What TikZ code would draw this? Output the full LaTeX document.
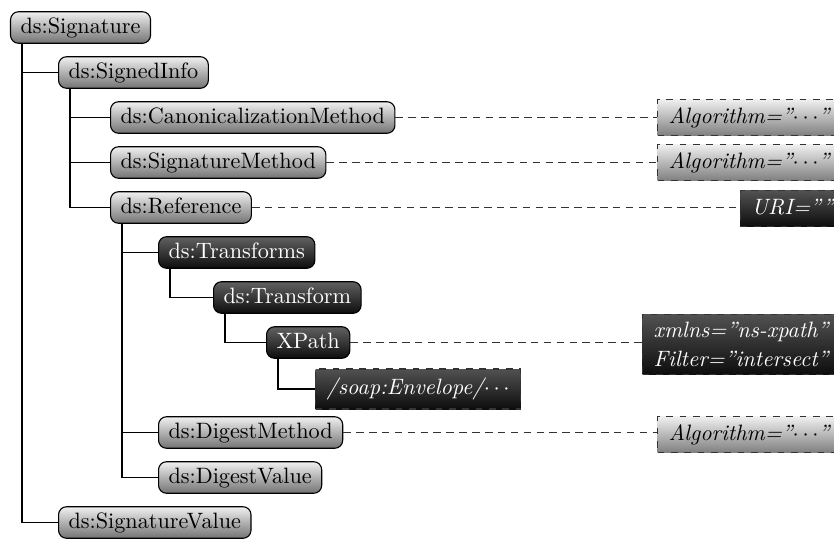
\documentclass[tikz,border=0pt]{standalone}
\begin{document}
\begin{tikzpicture}[x=0.45pt,y=-0.45pt,
  tn/.style={draw=black, line width=0.5pt, rounded corners=3.6pt,
    top color=black!6, bottom color=black!55,
    text height=7pt, text depth=2pt, inner xsep=4.5pt, inner ysep=2.6pt, anchor=west},
  tndark/.style={tn, top color=black!62, bottom color=black!95, text=white},
  attr/.style={draw=black!80, dashed, line width=0.55pt,
    top color=black!6, bottom color=black!50, font=\itshape,
    text height=7pt, text depth=2pt, inner xsep=5pt, inner ysep=3.6pt, anchor=west},
  attrdark/.style={attr, top color=black!68, bottom color=black!95, text=white},
  branch/.style={draw=black, line width=0.6pt},
  link/.style={draw=black!80, line width=0.55pt, dash pattern=on 3.4pt off 2.4pt},
]
\useasboundingbox (0,0) rectangle (834,541);

% element tree
\node[tn] (sig) at (10,27.5) {ds:Signature};
\node[tn] (si) at (58,72.5) {ds:SignedInfo};
\node[tn] (cm) at (110,117.5) {ds:CanonicalizationMethod};
\node[tn] (sm) at (110,162.5) {ds:SignatureMethod};
\node[tn] (ref) at (110,207.5) {ds:Reference};
\node[tndark] (trs) at (158,252.5) {ds:Transforms};
\node[tndark] (tr) at (213,297.5) {ds:Transform};
\node[tndark] (xp) at (266,342.5) {XPath};
\node[attrdark, inner ysep=4.5pt] (env) at (315,389) {/soap:Envelope/$\cdots$};
\node[tn] (dm) at (158,432.5) {ds:DigestMethod};
\node[tn] (dv) at (158,477.5) {ds:DigestValue};
\node[tn] (sv) at (58,522.5) {ds:SignatureValue};

% attribute boxes
\node[attr] (a1) at (657,117.5) {Algorithm=”$\cdots$”};
\node[attr] (a2) at (657,162.5) {Algorithm=”$\cdots$”};
\node[attrdark] (a3) at (740,208.5) {URI=””};
\node[attrdark, align=left, text height=, text depth=, inner ysep=3.5pt] (a4) at (642,344.5)
  {xmlns=”ns-xpath”\\[1.2pt] Filter=”intersect”};
\node[attr] (a5) at (657,434.5) {Algorithm=”$\cdots$”};

% tree branches
\def\off{5.4pt}
\foreach \p/\c in {sig/si, sig/sv, si/cm, si/sm, si/ref, ref/trs, ref/dm, ref/dv, trs/tr, tr/xp, xp/env}
  \draw[branch] ([xshift=\off]\p.south west) |- (\c.west);

% attribute links
\draw[link] (cm.east) -- (a1.west);
\draw[link] (sm.east) -- (a2.west);
\draw[link] (ref.east) -- (ref.east -| a3.west);
\draw[link] (xp.east) -- (xp.east -| a4.west);
\draw[link] (dm.east) -- (dm.east -| a5.west);
\end{tikzpicture}
\end{document}
